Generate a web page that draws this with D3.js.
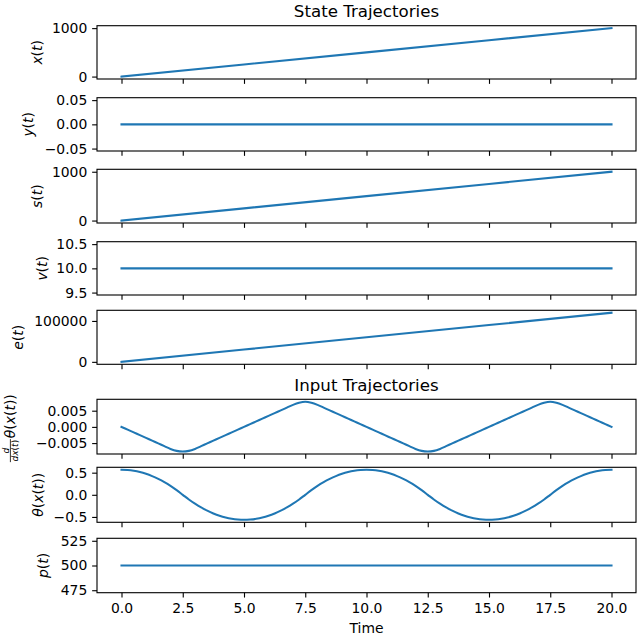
<!DOCTYPE html>
<html><head><meta charset="utf-8">
<script src="https://cdn.jsdelivr.net/npm/d3@7"></script>
<style>body{margin:0;background:#fff} text{font-family:"DejaVu Sans",sans-serif;fill:#000}</style>
</head><body><svg id="c" width="640" height="640"></svg>
<script>
// ---------- data ----------
const timeTicks = [0, 2.5, 5, 7.5, 10, 12.5, 15, 17.5, 20];
const tLin = [0, 5, 10, 15, 20];
const xVals = [0, 250, 500, 750, 1000];
const yVals = [0, 0, 0, 0, 0];
const sVals = [0, 250, 500, 750, 1000];
const vVals = [10, 10, 10, 10, 10];
const eVals = [0, 30000, 60000, 90000, 120000];
const pVals = [500, 500, 500, 500, 500];
const tCurve = [0,0.25,0.5,0.75,1,1.25,1.5,1.75,2,2.25,2.5,2.75,3,3.25,3.5,3.75,4,4.25,4.5,4.75,
  5,5.25,5.5,5.75,6,6.25,6.5,6.75,7,7.25,7.5,7.75,8,8.25,8.5,8.75,9,9.25,9.5,9.75,
  10,10.25,10.5,10.75,11,11.25,11.5,11.75,12,12.25,12.5,12.75,13,13.25,13.5,13.75,14,14.25,14.5,14.75,
  15,15.25,15.5,15.75,16,16.25,16.5,16.75,17,17.25,17.5,17.75,18,18.25,18.5,18.75,19,19.25,19.5,19.75,20];
const dThetaVals = [
  0,-0.00085,-0.0017,-0.00255,-0.0034,-0.00425,-0.0051,-0.00595,-0.0068,-0.0074,-0.0076,-0.0074,-0.0068,-0.00595,-0.0051,-0.00425,-0.0034,-0.00255,-0.0017,-0.00085,
  0,0.00085,0.0017,0.00255,0.0034,0.00425,0.0051,0.00595,0.0068,0.00745,0.00775,0.00745,0.0068,0.00595,0.0051,0.00425,0.0034,0.00255,0.0017,0.00085,
  0,-0.00085,-0.0017,-0.00255,-0.0034,-0.00425,-0.0051,-0.00595,-0.0068,-0.0074,-0.0076,-0.0074,-0.0068,-0.00595,-0.0051,-0.00425,-0.0034,-0.00255,-0.0017,-0.00085,
  0,0.00085,0.0017,0.00255,0.0034,0.00425,0.0051,0.00595,0.0068,0.00745,0.00775,0.00745,0.0068,0.00595,0.0051,0.00425,0.0034,0.00255,0.0017,0.00085,
  0];
const thetaVals = [
  0.565,0.559,0.542,0.514,0.474,0.422,0.359,0.286,0.202,0.106,0,-0.106,-0.202,-0.286,-0.359,-0.422,-0.474,-0.514,-0.542,-0.559,
  -0.565,-0.559,-0.542,-0.514,-0.474,-0.422,-0.359,-0.286,-0.202,-0.106,0,0.106,0.202,0.286,0.359,0.422,0.474,0.514,0.542,0.559,
  0.565,0.559,0.542,0.514,0.474,0.422,0.359,0.286,0.202,0.106,0,-0.106,-0.202,-0.286,-0.359,-0.422,-0.474,-0.514,-0.542,-0.559,
  -0.565,-0.559,-0.542,-0.514,-0.474,-0.422,-0.359,-0.286,-0.202,-0.106,0,0.106,0.202,0.286,0.359,0.422,0.474,0.514,0.542,0.559,
  0.565];
const xTicksY = [0, 1000];
const yTicksY = [-0.05, 0, 0.05];
const sTicksY = [0, 1000];
const vTicksY = [9.5, 10, 10.5];
const eTicksY = [0, 100000];
const dThetaTicksY = [-0.005, 0, 0.005];
const thetaTicksY = [-0.5, 0, 0.5];
const pTicksY = [475, 500, 525];
const timeTickLabels = ["0.0","2.5","5.0","7.5","10.0","12.5","15.0","17.5","20.0"];

// ---------- layout ----------
const svg = d3.select("#c");
const L = 97, R = 636;
const FS = 13.9;
const color = "#1f77b4";
const x = d3.scaleLinear().domain([-1, 21]).range([L, R]);

const panels = [
  {t: tLin, v: xVals, ticks: xTicksY, fmt: d3.format("d"), top: 25.7, bot: 79, lab: "x(t)", lx: 41.5},
  {t: tLin, v: yVals, ticks: yTicksY, fmt: d3.format(".2f"), top: 97.7, bot: 151, lab: "y(t)", lx: 32.5},
  {t: tLin, v: sVals, ticks: sTicksY, fmt: d3.format("d"), top: 169.3, bot: 223, lab: "s(t)", lx: 41.5},
  {t: tLin, v: vVals, ticks: vTicksY, fmt: d3.format(".1f"), top: 241.7, bot: 295, lab: "v(t)", lx: 46.5},
  {t: tLin, v: eVals, ticks: eTicksY, fmt: d3.format("d"), top: 310.3, bot: 364.3, lab: "e(t)", lx: 23},
  {t: tCurve, v: dThetaVals, ticks: dThetaTicksY, fmt: d3.format(".3f"), top: 399.3, bot: 454, lab: "deriv", lx: 15, curve: true},
  {t: tCurve, v: thetaVals, ticks: thetaTicksY, fmt: d3.format(".1f"), top: 467.3, bot: 522.3, lab: "θ(x(t))", lx: 43, curve: true},
  {t: tLin, v: pVals, ticks: pTicksY, fmt: d3.format("d"), top: 538.3, bot: 592.7, lab: "p(t)", lx: 48}
];

function yDomain(vals) {
  let [lo, hi] = d3.extent(vals);
  if (lo === hi) {
    const d = lo === 0 ? 0.05 : Math.abs(lo) * 0.05;
    lo -= d; hi += d;
  }
  const m = (hi - lo) * 0.05;
  return [lo - m, hi + m];
}

function mathLabel(sel, str) {
  for (const ch of str) {
    const isLetter = /[a-zA-Zθ]/.test(ch);
    sel.append("tspan").attr("font-style", isLetter ? "italic" : "normal").text(ch);
  }
}

panels.forEach((p, i) => {
  const y = d3.scaleLinear().domain(yDomain(p.v)).range([p.bot, p.top]);
  const g = svg.append("g");

  const ax = d3.axisBottom(x).tickValues(timeTicks).tickSize(4.86).tickPadding(5.8)
    .tickFormat((d, j) => i === panels.length - 1 ? timeTickLabels[j] : "");
  const gx = g.append("g").attr("transform", `translate(0,${p.bot})`).call(ax);
  gx.select(".domain").remove();
  gx.selectAll("line").attr("stroke", "#000").attr("stroke-width", 1.11);
  gx.selectAll("text").attr("font-size", FS).attr("font-family", "DejaVu Sans").attr("fill", "#000");

  const ay = d3.axisLeft(y).tickValues(p.ticks).tickSize(4.86).tickPadding(4.86).tickFormat(p.fmt);
  const gy = g.append("g").attr("transform", `translate(${L},0)`).call(ay);
  gy.select(".domain").remove();
  gy.selectAll("line").attr("stroke", "#000").attr("stroke-width", 1.11);
  gy.selectAll("text").attr("font-size", FS).attr("font-family", "DejaVu Sans").attr("fill", "#000");

  const line = d3.line().x((d, j) => x(p.t[j])).y(d => y(d));
  if (p.curve) line.curve(d3.curveCatmullRom.alpha(0.5));
  g.append("path").datum(p.v).attr("d", line).attr("fill", "none")
    .attr("stroke", color).attr("stroke-width", 2.08).attr("stroke-linecap", "square").attr("stroke-linejoin", "round");

  g.append("rect").attr("x", L).attr("y", p.top).attr("width", R - L).attr("height", p.bot - p.top)
    .attr("fill", "none").attr("stroke", "#000").attr("stroke-width", 1.11);

  const cy = (p.top + p.bot) / 2;
  if (p.lab === "deriv") {
    const lg = svg.append("g").attr("transform", `translate(${p.lx},${cy + 1}) rotate(-90)`);
    const fs2 = 9.0;
    lg.append("text").attr("x", -23).attr("y", -6.5).attr("text-anchor", "middle")
      .attr("font-size", fs2).attr("font-style", "italic").text("d");
    lg.append("line").attr("x1", -34.5).attr("x2", -11.5).attr("y1", -4.6).attr("y2", -4.6)
      .attr("stroke", "#000").attr("stroke-width", 0.8);
    const den = lg.append("text").attr("x", -23).attr("y", 2.8).attr("text-anchor", "middle").attr("font-size", fs2);
    mathLabel(den, "dx(t)");
    const main = lg.append("text").attr("x", -10.5).attr("y", 0).attr("text-anchor", "start").attr("font-size", FS);
    mathLabel(main, "θ(x(t))");
  } else {
    const t = svg.append("text").attr("transform", `translate(${p.lx},${cy}) rotate(-90)`)
      .attr("text-anchor", "middle").attr("font-size", FS);
    mathLabel(t, p.lab);
  }
});

const cx = (L + R) / 2;
svg.append("text").attr("x", cx).attr("y", 17.4).attr("text-anchor", "middle").attr("font-size", 16.67).text("State Trajectories");
svg.append("text").attr("x", cx).attr("y", 391).attr("text-anchor", "middle").attr("font-size", 16.67).text("Input Trajectories");
svg.append("text").attr("x", cx).attr("y", 632.8).attr("text-anchor", "middle").attr("font-size", FS).text("Time");
</script></body></html>
